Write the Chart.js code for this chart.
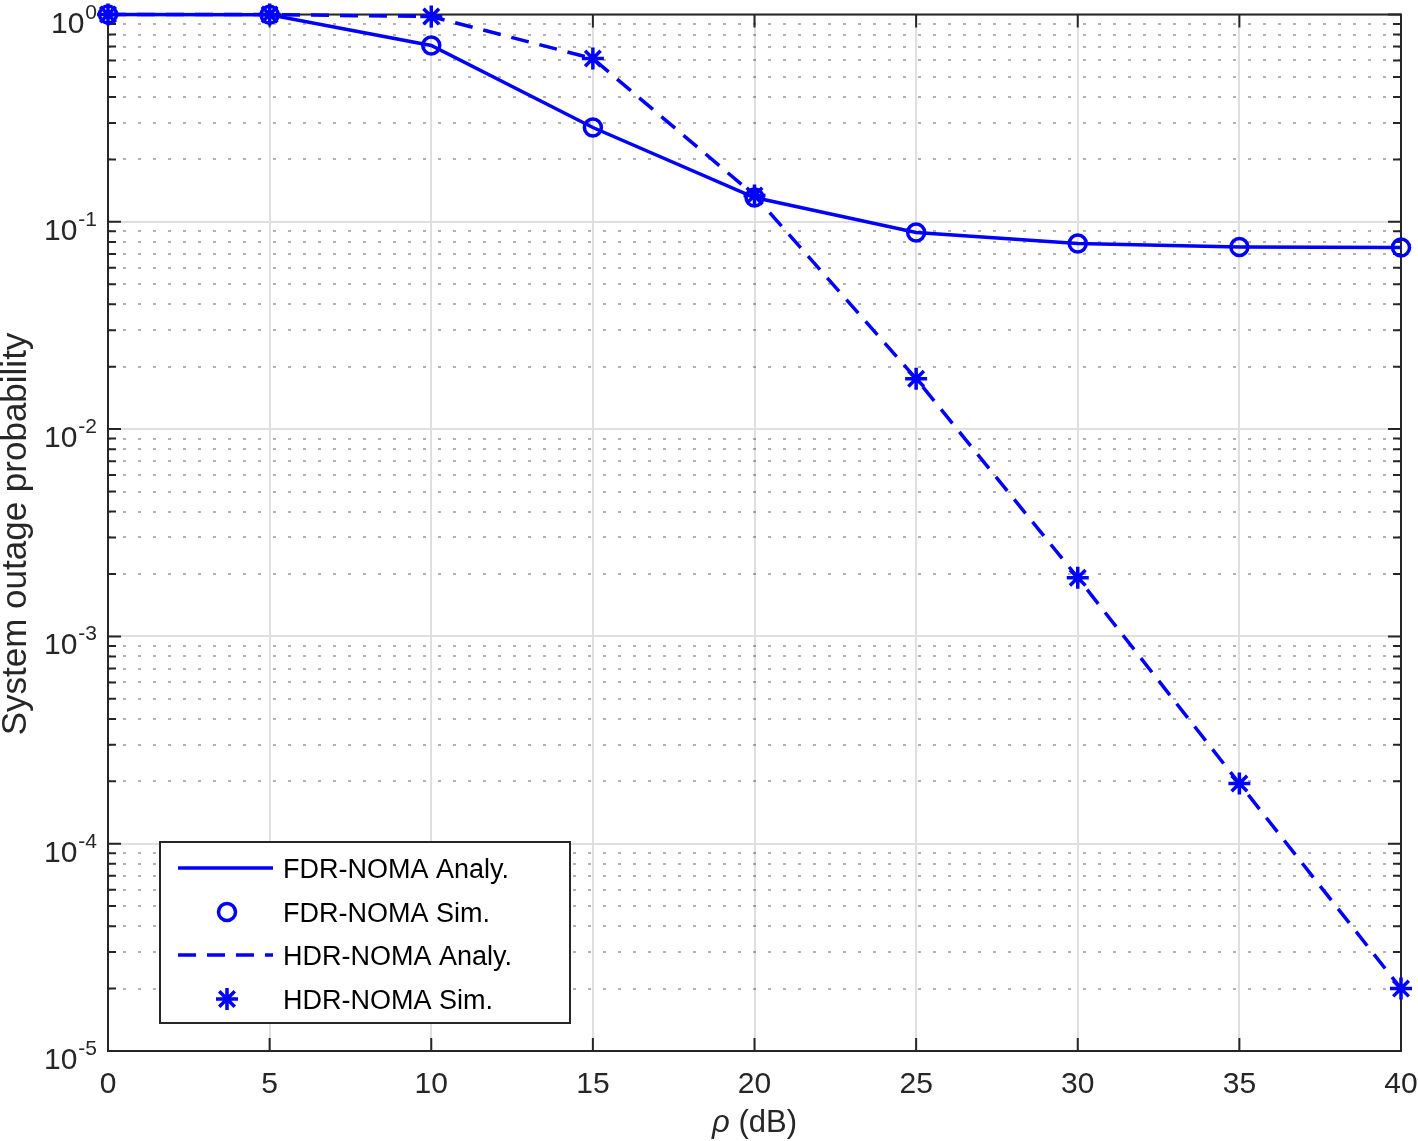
<!DOCTYPE html>
<html>
<head>
<meta charset="utf-8">
<title>System outage probability</title>
<script src="https://cdn.jsdelivr.net/npm/chart.js@4.4.1/dist/chart.umd.min.js"></script>
<style>
    body { margin: 0; background: #fff; }
    canvas { display: block; }
</style>
</head>
<body>
<canvas id="outageChart" width="1418" height="1141"></canvas>
<script>
// Données
const rho = [0, 5, 10, 15, 20, 25, 30, 35, 40];
const fdrAnaly = [1, 0.998, 0.709, 0.285, 0.131, 0.0888, 0.0786, 0.0755, 0.0752];
const fdrSim = [1, 0.998, 0.709, 0.285, 0.131, 0.0888, 0.0786, 0.0755, 0.0752];
const hdrAnaly = [1, 0.999, 0.978, 0.613, 0.134, 0.0175, 0.00192, 0.000195, 0.00002];
const hdrSim = [1, 0.999, 0.978, 0.613, 0.134, 0.0175, 0.00192, 0.000195, 0.00002];

const xTicks = [0, 5, 10, 15, 20, 25, 30, 35, 40];
const yDecades = [0, -1, -2, -3, -4, -5];
const legendLabels = ['FDR-NOMA Analy.', 'FDR-NOMA Sim.', 'HDR-NOMA Analy.', 'HDR-NOMA Sim.'];
const xTitle = ['ρ', ' (dB)'];
const yTitle = 'System outage probability';

const BLUE = '#0000ff';
const AXIS = '#262626';
const FONT = "'Liberation Sans', Arial, Helvetica, sans-serif";

const toPoints = (arr) => rho.map((x, i) => ({ x: x, y: arr[i] }));

// graduations mineures 2..9 x 10^n
const minorValues = [];
yDecades.forEach(n => {
    if (n === 0) return;
    for (let k = 2; k <= 9; k++) minorValues.push(k * Math.pow(10, n));
});

// Cadre + graduations intérieures façon MATLAB
const frameAndTicks = {
    id: 'frameAndTicks',
    beforeDatasetsDraw(chart) {
        const { ctx, chartArea: { left, right, top, bottom }, scales: { x, y } } = chart;
        ctx.save();
        ctx.strokeStyle = AXIS;
        ctx.lineWidth = 2;
        ctx.strokeRect(left, top, right - left, bottom - top);
        ctx.beginPath();
        xTicks.forEach(v => {
            const px = x.getPixelForValue(v);
            ctx.moveTo(px, bottom); ctx.lineTo(px, bottom - 13);
            ctx.moveTo(px, top); ctx.lineTo(px, top + 13);
        });
        yDecades.forEach(n => {
            const py = y.getPixelForValue(Math.pow(10, n));
            ctx.moveTo(left, py); ctx.lineTo(left + 13, py);
            ctx.moveTo(right, py); ctx.lineTo(right - 13, py);
        });
        minorValues.forEach(v => {
            const py = y.getPixelForValue(v);
            ctx.moveTo(left, py); ctx.lineTo(left + 8, py);
            ctx.moveTo(right, py); ctx.lineTo(right - 8, py);
        });
        ctx.stroke();
        ctx.restore();
    }
};

// Étiquettes, titres d'axes et légende
const labelsAndLegend = {
    id: 'labelsAndLegend',
    afterDraw(chart) {
        const { ctx, chartArea: { bottom }, scales: { x, y } } = chart;
        ctx.save();
        ctx.fillStyle = AXIS;

        // axe x
        ctx.font = `30px ${FONT}`;
        ctx.textAlign = 'center';
        ctx.textBaseline = 'alphabetic';
        xTicks.forEach(v => ctx.fillText(String(v), x.getPixelForValue(v), bottom + 42));

        // axe y : 10^n
        yDecades.forEach(n => {
            const py = y.getPixelForValue(Math.pow(10, n));
            const sup = String(n);
            ctx.font = `21px ${FONT}`;
            ctx.textAlign = 'right';
            ctx.fillText(sup, 97, py + 4);
            const supW = ctx.measureText(sup).width;
            ctx.font = `30px ${FONT}`;
            ctx.fillText('10', 97 - supW - 1, py + 18);
        });

        // titre x
        ctx.textAlign = 'left';
        ctx.font = `italic 31px ${FONT}`;
        const w1 = ctx.measureText(xTitle[0]).width;
        ctx.font = `31px ${FONT}`;
        const w2 = ctx.measureText(xTitle[1]).width;
        const x0 = 754.5 - (w1 + w2) / 2;
        ctx.font = `italic 31px ${FONT}`;
        ctx.fillText(xTitle[0], x0, 1132);
        ctx.font = `31px ${FONT}`;
        ctx.fillText(xTitle[1], x0 + w1, 1132);

        // titre y
        ctx.save();
        ctx.translate(26, 534);
        ctx.rotate(-Math.PI / 2);
        ctx.textAlign = 'center';
        ctx.font = `35px ${FONT}`;
        ctx.fillText(yTitle, 0, 0);
        ctx.restore();

        // légende
        const box = { x: 160, y: 842, w: 410, h: 181 };
        ctx.fillStyle = '#fff';
        ctx.fillRect(box.x, box.y, box.w, box.h);
        ctx.strokeStyle = AXIS;
        ctx.lineWidth = 2;
        ctx.strokeRect(box.x, box.y, box.w, box.h);

        const rows = [868, 912, 955, 999];
        chart.data.datasets.forEach((ds, i) => {
            const ry = rows[i];
            ctx.strokeStyle = ds.borderColor;
            ctx.fillStyle = ds.pointBackgroundColor || ds.borderColor;
            if (ds.showLine !== false) {
                ctx.lineWidth = ds.borderWidth;
                ctx.setLineDash(ds.borderDash || []);
                ctx.beginPath();
                ctx.moveTo(178, ry);
                ctx.lineTo(273, ry);
                ctx.stroke();
                ctx.setLineDash([]);
            } else {
                ctx.strokeStyle = ds.pointBorderColor;
                Chart.helpers.drawPoint(ctx, {
                    pointStyle: ds.pointStyle,
                    radius: ds.pointRadius,
                    borderWidth: ds.pointBorderWidth,
                    rotation: 0
                }, 227, ry);
            }
            ctx.fillStyle = '#000';
            ctx.font = `27px ${FONT}`;
            ctx.textAlign = 'left';
            ctx.fillText(ds.label, 283, ry + 10);
        });
        ctx.restore();
    }
};

const ctx = document.getElementById('outageChart').getContext('2d');
new Chart(ctx, {
    type: 'line',
    data: {
        datasets: [
            {
                label: legendLabels[0],
                data: toPoints(fdrAnaly),
                borderColor: BLUE,
                borderWidth: 3.5,
                pointRadius: 0,
                tension: 0,
                fill: false,
                clip: false
            },
            {
                label: legendLabels[1],
                data: toPoints(fdrSim),
                showLine: false,
                borderColor: BLUE,
                pointStyle: 'circle',
                pointRadius: 8.5,
                pointBorderWidth: 3.5,
                pointBorderColor: BLUE,
                pointBackgroundColor: 'rgba(0,0,0,0)',
                clip: false
            },
            {
                label: legendLabels[2],
                data: toPoints(hdrAnaly),
                borderColor: BLUE,
                borderWidth: 3.5,
                borderDash: [18, 11],
                pointRadius: 0,
                tension: 0,
                fill: false,
                clip: false
            },
            {
                label: legendLabels[3],
                data: toPoints(hdrSim),
                showLine: false,
                borderColor: BLUE,
                pointStyle: 'star',
                pointRadius: 11,
                pointBorderWidth: 3.5,
                pointBorderColor: BLUE,
                pointBackgroundColor: BLUE,
                clip: false
            }
        ]
    },
    options: {
        responsive: false,
        animation: false,
        events: [],
        layout: { padding: { left: 108, right: 17, top: 14, bottom: 90 } },
        plugins: {
            legend: { display: false },
            tooltip: { enabled: false }
        },
        scales: {
            x: {
                type: 'linear',
                min: 0,
                max: 40,
                afterBuildTicks: (s) => { s.ticks = xTicks.map(v => ({ value: v })); },
                ticks: { display: false },
                grid: { color: '#dfdfdf', lineWidth: 2, drawTicks: false },
                border: { display: false }
            },
            y: {
                type: 'logarithmic',
                position: 'left',
                min: 1e-5,
                max: 1,
                afterBuildTicks: (s) => { s.ticks = yDecades.map(n => ({ value: Math.pow(10, n) })); },
                ticks: { display: false },
                grid: { color: '#dfdfdf', lineWidth: 2, drawTicks: false },
                border: { display: false }
            },
            yMinor: {
                type: 'logarithmic',
                position: 'left',
                min: 1e-5,
                max: 1,
                afterBuildTicks: (s) => { s.ticks = minorValues.map(v => ({ value: v })); },
                ticks: { display: false },
                grid: { color: 'rgba(0,0,0,0.3)', lineWidth: 2, drawTicks: false },
                border: { display: false, dash: [3, 12] }
            }
        }
    },
    plugins: [frameAndTicks, labelsAndLegend]
});
</script>
</body>
</html>
